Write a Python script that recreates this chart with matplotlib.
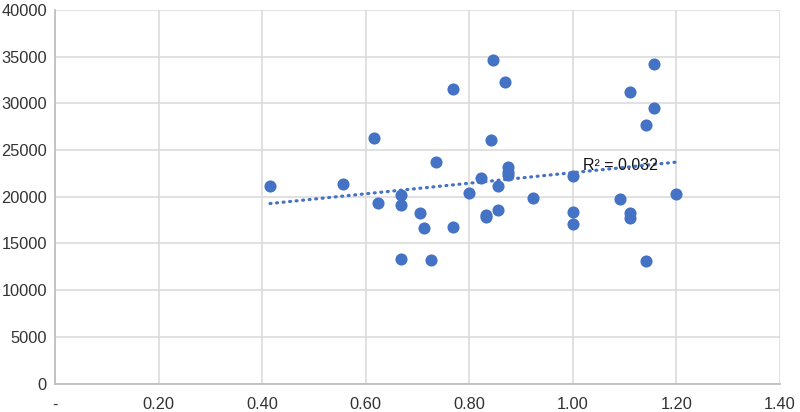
import numpy as np
import matplotlib.pyplot as plt
from matplotlib.ticker import FuncFormatter

# values
x_vals = [0.415, 0.555, 0.615, 0.624, 0.667, 0.667, 0.667, 0.705, 0.713, 0.726,
          0.736, 0.768, 0.768, 0.799, 0.823, 0.832, 0.832, 0.841, 0.846, 0.856,
          0.856, 0.869, 0.874, 0.874, 0.874, 0.922, 1.000, 1.000, 1.000, 1.090,
          1.110, 1.110, 1.110, 1.141, 1.141, 1.157, 1.157, 1.199]
y_vals = [21200, 21400, 26250, 19300, 20200, 19100, 13300, 18300, 16700, 13250,
          23750, 31500, 16750, 20400, 22000, 18000, 17800, 26050, 34600, 21200,
          18600, 32250, 23200, 22600, 22300, 19900, 22250, 18400, 17050, 19750,
          31250, 18300, 17700, 27700, 13100, 34200, 29450, 20300]
r2_label = "R\u00b2 = 0.032"

blue = "#4472C4"

plt.rcParams['font.family'] = ['Liberation Sans', 'DejaVu Sans']

fig = plt.figure(figsize=(8, 4.12), dpi=100)
ax = fig.add_axes([0.069, 0.069, 0.906, 0.907])

ax.scatter(x_vals, y_vals, s=76, color=blue, zorder=3, linewidths=0)

# linear trendline
x = np.array(x_vals)
y = np.array(y_vals)
k, b = np.polyfit(x, y, 1)
xs = np.array([x.min(), x.max()])
ax.plot(xs, k * xs + b, color=blue, lw=2.3, linestyle=(0, (0.3, 1.75)),
        dash_capstyle='round', zorder=2)
ax.text(1.019, 23340, r2_label, fontsize=11.5, color="#111111",
        va='center', ha='left', zorder=4)

ax.set_xlim(0, 1.4)
ax.set_ylim(0, 40000)
ax.set_xticks(np.arange(0, 1.41, 0.2))
ax.set_yticks(np.arange(0, 40001, 5000))
ax.xaxis.set_major_formatter(FuncFormatter(lambda v, p: "-" if abs(v) < 1e-9 else f"{v:.2f}"))
ax.yaxis.set_major_formatter(FuncFormatter(lambda v, p: f"{int(v)}"))

ax.grid(True, color="#D9D9D9", lw=1.1)
ax.set_axisbelow(True)
for side in ["top", "right"]:
    ax.spines[side].set_visible(False)
for side in ["left", "bottom"]:
    ax.spines[side].set_color("#BFBFBF")
    ax.spines[side].set_linewidth(1.3)

ax.tick_params(length=0, labelsize=11.8, colors="#333333")
ax.tick_params(axis='y', pad=6)
ax.tick_params(axis='x', pad=10)

fig.savefig("out.png", dpi=100)
